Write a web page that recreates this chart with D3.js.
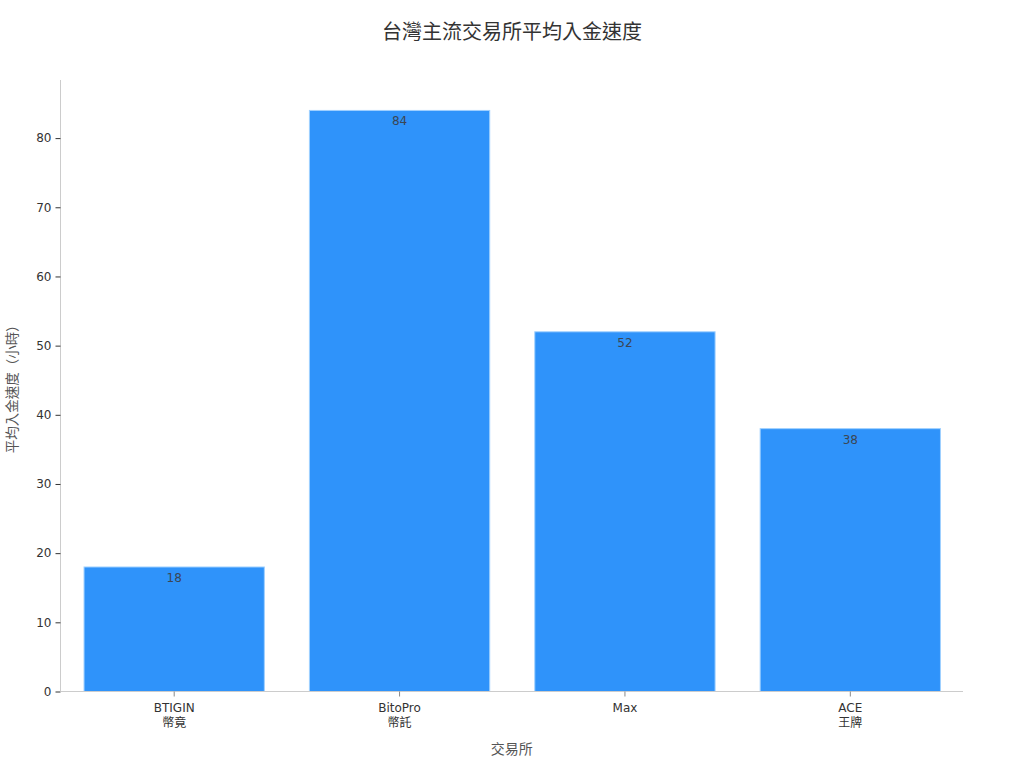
<!DOCTYPE html>
<html lang="zh-Hant">
<head>
    <meta charset="UTF-8">
    <title>台灣主流交易所平均入金速度</title>
    <script src="https://d3js.org/d3.v7.min.js"></script>
    <style>
        body { margin: 0; background: #fff; }
        text { font-family: "DejaVu Sans", "Noto Sans CJK TC", sans-serif; }
    </style>
</head>
<body>
    <div id="chart"></div>
    <script>
      // data
      const exchanges = ["BTIGIN", "BitoPro", "Max", "ACE"];
      const exchangeNames = ["幣竟", "幣託", "", "王牌"];
      const hours = [18, 84, 52, 38];
      const yTicks = [0, 10, 20, 30, 40, 50, 60, 70, 80];

      const width = 1024, height = 768;
      const margin = { top: 80, right: 61, bottom: 76.5, left: 60.5 };

      const svg = d3.select("#chart").append("svg")
          .attr("width", width)
          .attr("height", height);

      const x = d3.scaleBand()
          .domain(exchanges)
          .range([margin.left + 1, width - margin.right])
          .paddingInner(0.2)
          .paddingOuter(0.1);

      const y = d3.scaleLinear()
          .domain([0, 88.4])
          .range([height - margin.bottom, margin.top]);

      // bars
      svg.selectAll(".bar")
          .data(hours)
          .enter().append("rect")
          .attr("class", "bar")
          .attr("x", (d, i) => x(exchanges[i]))
          .attr("y", d => y(d))
          .attr("width", x.bandwidth())
          .attr("height", d => y(0) - y(d))
          .attr("fill", "#2f93fa")
          .attr("stroke", "#9fd0ff")
          .attr("stroke-width", 1);

      // value labels just below bar top
      svg.selectAll(".bar-label")
          .data(hours)
          .enter().append("text")
          .attr("class", "bar-label")
          .attr("x", (d, i) => x(exchanges[i]) + x.bandwidth() / 2)
          .attr("y", d => y(d) + 15)
          .attr("text-anchor", "middle")
          .style("font-size", "12px")
          .style("fill", "#3b4654")
          .text(d => d);

      // y axis
      const yAxis = svg.append("g")
          .attr("transform", `translate(${margin.left},0)`)
          .call(d3.axisLeft(y).tickValues(yTicks).tickSize(5).tickPadding(4));
      yAxis.select(".domain").attr("stroke", "#cccccc")
          .attr("d", `M0,${y(0)}V${margin.top}`);
      yAxis.selectAll(".tick line").attr("stroke", "#333");
      yAxis.selectAll(".tick text").style("font-size", "12px").style("fill", "#333");

      // x axis
      const xAxis = svg.append("g")
          .attr("transform", `translate(0,${y(0)})`)
          .call(d3.axisBottom(x).tickSize(5).tickFormat(""));
      xAxis.select(".domain").attr("stroke", "#cccccc")
          .attr("d", `M${margin.left},0H${width - margin.right}`);
      xAxis.selectAll(".tick line").attr("stroke", "#888");

      xAxis.selectAll(".tick").each(function(d, i) {
          const t = d3.select(this).append("text")
              .attr("text-anchor", "middle")
              .style("font-size", "12px")
              .style("fill", "#333");
          t.append("tspan").attr("x", 0).attr("y", 20).text(d);
          if (exchangeNames[i]) {
              t.append("tspan").attr("x", 0).attr("y", 35).text(exchangeNames[i]);
          }
      });

      // title
      svg.append("text")
          .attr("x", width / 2)
          .attr("y", 39)
          .attr("text-anchor", "middle")
          .style("font-size", "20px")
          .style("fill", "#333")
          .text("台灣主流交易所平均入金速度");

      // axis labels
      svg.append("text")
          .attr("x", (margin.left + width - margin.right) / 2)
          .attr("y", 754)
          .attr("text-anchor", "middle")
          .style("font-size", "14px")
          .style("fill", "#555")
          .text("交易所");

      svg.append("text")
          .attr("transform", `translate(17,${(margin.top + y(0)) / 2}) rotate(-90)`)
          .attr("text-anchor", "middle")
          .style("font-size", "13.5px")
          .style("fill", "#555")
          .text("平均入金速度（小時）");
    </script>
</body>
</html>
